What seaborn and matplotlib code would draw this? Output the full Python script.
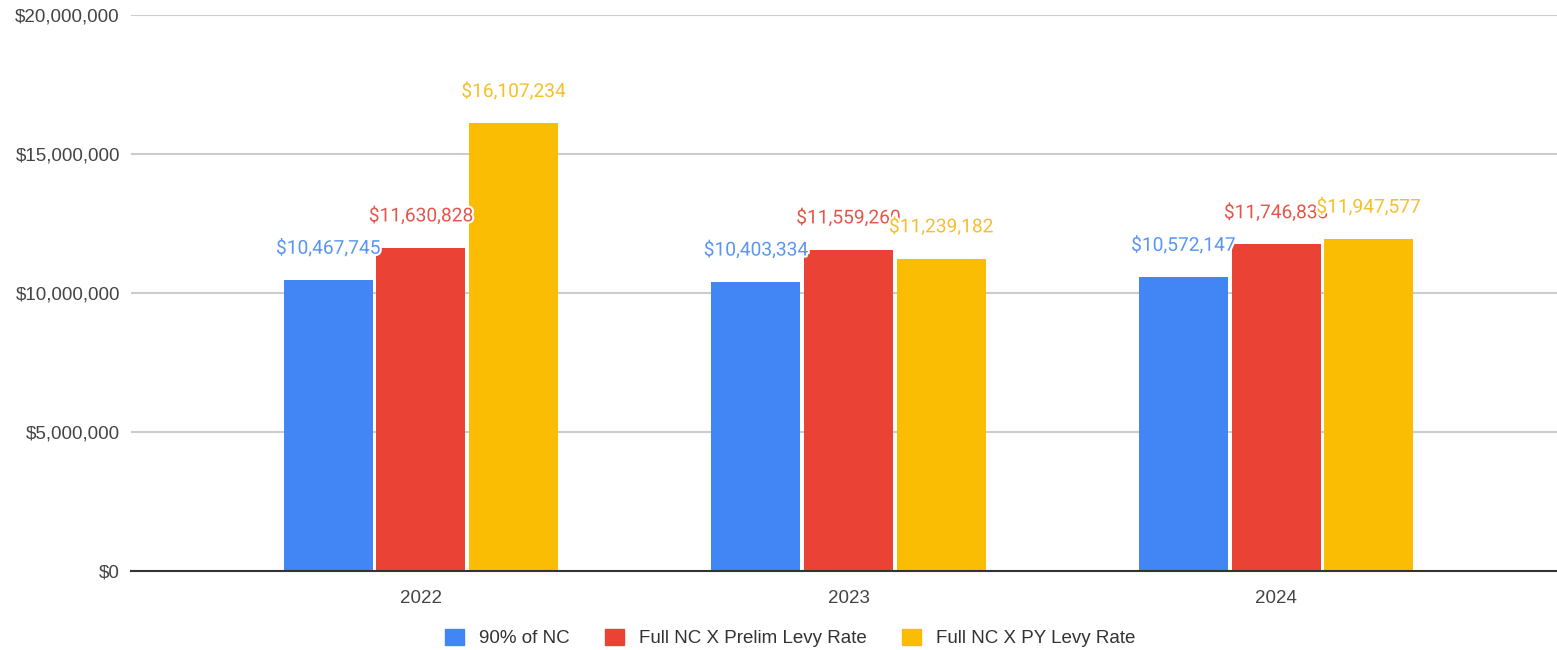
import pandas as pd
import matplotlib.pyplot as plt
import matplotlib.patheffects as pe
import seaborn as sns
from matplotlib.ticker import FuncFormatter

years = ["2022", "2023", "2024"]
series_names = ["90% of NC", "Full NC X Prelim Levy Rate", "Full NC X PY Levy Rate"]
ninety_pct_nc = [10467745, 10403334, 10572147]
prelim_levy = [11630828, 11559260, 11746833]
py_levy = [16107234, 11239182, 11947577]
colors = ["#4285F4", "#EA4335", "#FBBC04"]
label_colors = ["#5a95f5", "#e6554a", "#f5c02a"]

data = pd.DataFrame({
    "Year": years * 3,
    "Series": [s for s in series_names for _ in years],
    "Value": ninety_pct_nc + prelim_levy + py_levy,
})

sns.set_style("white")
plt.rcParams["font.family"] = ["Liberation Sans", "DejaVu Sans"]

fig = plt.figure(figsize=(15.57, 6.5), dpi=100)
ax = fig.add_axes([131 / 1557, 1 - 571 / 650, 1 - 131 / 1557, (571 - 15) / 650])

sns.barplot(data=data, x="Year", y="Value", hue="Series", hue_order=series_names,
            palette=colors, saturation=1, width=0.65, gap=0.04, ax=ax, legend=False,
            edgecolor="none", linewidth=0)

ax.set_xlim(-0.678, 2.657)
ax.set_ylim(0, 20000000)
ax.set_yticks([0, 5000000, 10000000, 15000000, 20000000])
ax.yaxis.set_major_formatter(FuncFormatter(lambda v, p: f"${v:,.0f}"))
ax.grid(axis="y", color="#cccccc", linewidth=1.5)
ax.set_axisbelow(True)
for side in ["top", "right", "left"]:
    ax.spines[side].set_visible(False)
ax.spines["bottom"].set_color("#333333")
ax.spines["bottom"].set_linewidth(1.5)
ax.spines["bottom"].set_zorder(3)
ax.tick_params(axis="both", length=0, labelsize=13.5, labelcolor="#444444")
ax.tick_params(axis="y", pad=8)
ax.tick_params(axis="x", pad=14)
ax.set_xlabel("")
ax.set_ylabel("")

for container, color in zip(ax.containers, label_colors):
    for bar in container:
        h = bar.get_height()
        ax.annotate(f"${h:,.0f}", (bar.get_x() + bar.get_width() / 2, h),
                    xytext=(0, 16), textcoords="offset points", ha="center", va="bottom",
                    fontsize=13.8, color=color, family=["Roboto", "DejaVu Sans"],
                    path_effects=[pe.withStroke(linewidth=3, foreground="white")])

handles = [plt.Rectangle((0, 0), 1, 1, color=c) for c in colors]
fig.legend(handles, series_names, loc="center", bbox_to_anchor=(790 / 1557, 1 - 638 / 650),
           ncol=3, frameon=False, fontsize=13.5, handlelength=1.0, handleheight=1.0,
           columnspacing=1.9, handletextpad=0.8, labelcolor="#333333")

plt.savefig("out.png", dpi=100)
plt.close()
